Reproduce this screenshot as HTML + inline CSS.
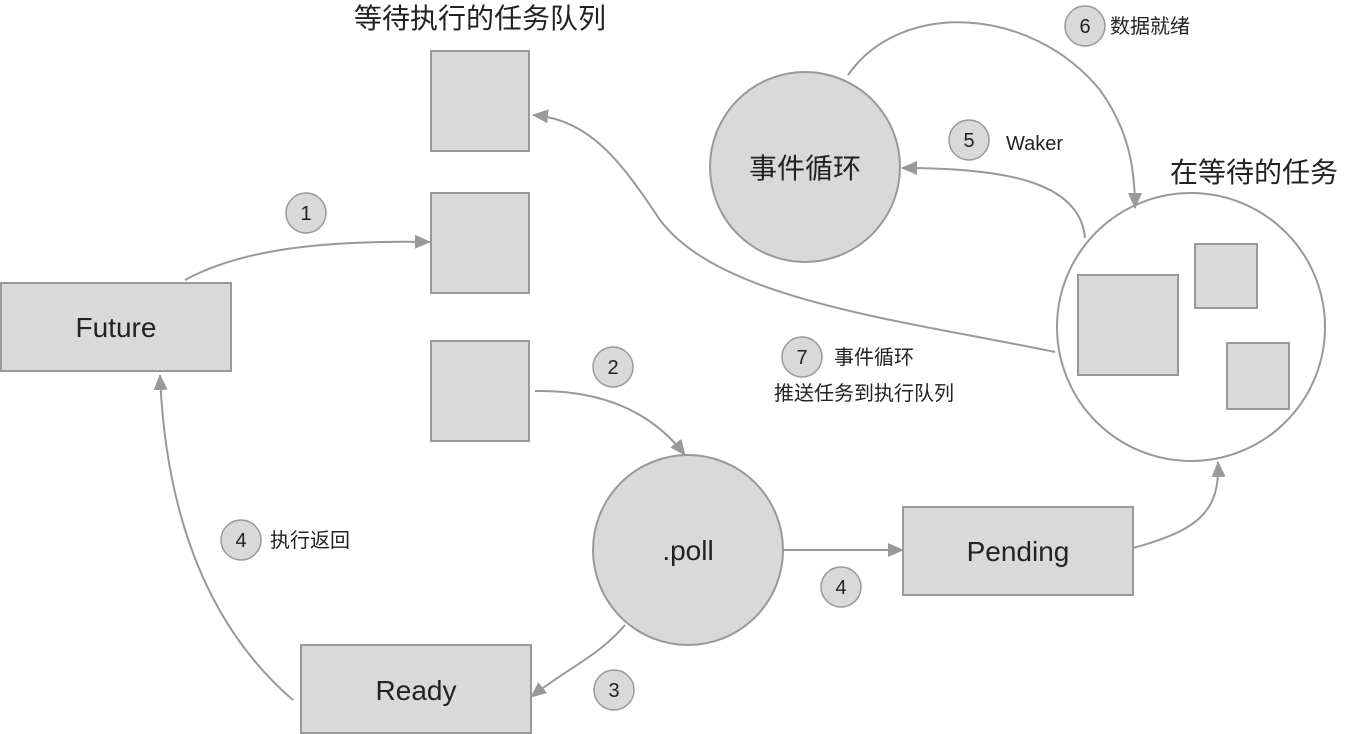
<!DOCTYPE html>
<html><head><meta charset="utf-8"><style>
html,body{margin:0;padding:0;background:#fff;}
svg{display:block;}
text{font-family:"Liberation Sans","Noto Sans CJK SC",sans-serif;fill:#222;}
</style></head><body>
<svg width="1350" height="734" viewBox="0 0 1350 734" xmlns="http://www.w3.org/2000/svg">
<defs>
<marker id="a" markerWidth="10" markerHeight="10" refX="9" refY="5" orient="auto" markerUnits="userSpaceOnUse" viewBox="0 0 10 10">
<path d="M0,0 L10,5 L0,10 z" fill="#999"/>
</marker>
<marker id="b" markerWidth="16" markerHeight="14" refX="15" refY="7" orient="auto" markerUnits="userSpaceOnUse" viewBox="0 0 16 14">
<path d="M0,0 L16,7 L0,14 z" fill="#999"/>
</marker>
</defs>
<g fill="#d9d9d9" stroke="#999" stroke-width="2">
<rect x="431" y="51" width="98" height="100"/>
<rect x="431" y="193" width="98" height="100"/>
<rect x="431" y="341" width="98" height="100"/>
<rect x="1" y="283" width="230" height="88"/>
<rect x="903" y="507" width="230" height="88"/>
<rect x="301" y="645" width="230" height="88"/>
<circle cx="688" cy="550" r="95"/>
<circle cx="805" cy="167" r="95"/>
<circle cx="1191" cy="327" r="134" fill="#fff"/>
<rect x="1078" y="275" width="100" height="100"/>
<rect x="1195" y="244" width="62" height="64"/>
<rect x="1227" y="343" width="62" height="66"/>
</g>
<g fill="none" stroke="#999" stroke-width="2" marker-end="url(#b)">
<path d="M185,280 C240,250 320,240 430,242"/>
<path d="M535,391 C600,390 650,410 685,455"/>
<path d="M625,625 C600,655 565,670 531,697"/>
<path d="M293,700 C200,620 165,500 160,375"/>
<path d="M783,550 L903,550"/>
<path d="M1133,548 C1200,530 1220,510 1218,462"/>
<path d="M1085,238 C1080,180 1000,168 902,168"/>
<path d="M848,75 C900,0 1030,5 1100,90 C1125,125 1135,160 1135,208"/>
<path d="M1055,352 C900,320 720,300 660,220 C620,160 590,120 533,115"/>
</g>
<g font-size="28" text-anchor="middle">
<text x="480" y="28">等待执行的任务队列</text>
<text x="1254" y="182">在等待的任务</text>
<text x="116" y="337">Future</text>
<text x="1018" y="561">Pending</text>
<text x="416" y="700">Ready</text>
<text x="688" y="560">.poll</text>
<text x="805" y="178">事件循环</text>
</g>
<g fill="#d9d9d9" stroke="#999" stroke-width="1.5">
<circle cx="306" cy="213" r="20"/>
<circle cx="613" cy="367" r="20"/>
<circle cx="614" cy="690" r="20"/>
<circle cx="841" cy="587" r="20"/>
<circle cx="241" cy="540" r="20"/>
<circle cx="969" cy="140" r="20"/>
<circle cx="1085" cy="26" r="20"/>
<circle cx="802" cy="357" r="20"/>
</g>
<g font-size="20" text-anchor="middle">
<text x="306" y="220">1</text>
<text x="613" y="374">2</text>
<text x="614" y="697">3</text>
<text x="841" y="594">4</text>
<text x="241" y="547">4</text>
<text x="969" y="147">5</text>
<text x="1085" y="33">6</text>
<text x="802" y="364">7</text>
</g>
<g font-size="20">
<text x="270" y="547">执行返回</text>
<text x="1006" y="150">Waker</text>
<text x="1110" y="33">数据就绪</text>
<text x="834" y="364">事件循环</text>
<text x="774" y="400">推送任务到执行队列</text>
</g>
</svg>
</body></html>
